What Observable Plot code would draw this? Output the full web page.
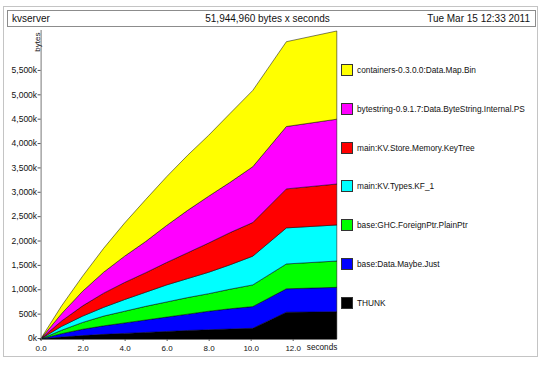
<!DOCTYPE html>
<html>
<head>
<meta charset="utf-8">
<script src="https://cdn.jsdelivr.net/npm/d3@7"></script>
<script src="https://cdn.jsdelivr.net/npm/@observablehq/plot@0.6"></script>
<style>
  body { margin: 0; background: #fff; }
  #wrap { position: relative; width: 540px; height: 367px; overflow: hidden;
          font-family: "Liberation Sans", Arial, Helvetica, sans-serif; color: #111; }
  #chart { position: absolute; left: 0; top: 0; }
  #frame { position: absolute; left: 3px; top: 6px; width: 535px; height: 351px;
           border: 1px solid #c4c4c4; box-sizing: border-box; pointer-events: none; }
  #title { position: absolute; left: 7px; top: 10px; width: 529px; height: 17px;
           border: 1px solid #8c8c8c; box-sizing: border-box; font-size: 10px; }
  #title span { position: absolute; top: 2px; line-height: 12px; white-space: nowrap; }
  #legend { position: absolute; left: 341px; top: 64px; }
  .item { position: absolute; left: 0; height: 12px; white-space: nowrap; }
  .sw { position: absolute; left: 0; top: 0; width: 12px; height: 12px;
        border: 1px solid #333; box-sizing: border-box; }
  .lt { position: absolute; left: 16px; top: 0; line-height: 12px; font-size: 8.3px; }
</style>
</head>
<body>
<div id="wrap">
  <div id="chart"></div>
  <div id="frame"></div>
  <div id="title"></div>
  <div id="legend"></div>
</div>
<script>
// ---- data (values in k bytes) ----
const titleLeft = "kvserver";
const titleCenter = "51,944,960 bytes x seconds";
const titleRight = "Tue Mar 15 12:33 2011";
const yLabel = "bytes";
const xLabel = "seconds";

const times = [0, 1, 2, 3, 4, 5, 6, 7, 8, 9, 10.1, 11.7, 14.1];

const series = [
  "THUNK",
  "base:Data.Maybe.Just",
  "base:GHC.ForeignPtr.PlainPtr",
  "main:KV.Types.KF_1",
  "main:KV.Store.Memory.KeyTree",
  "bytestring-0.9.1.7:Data.ByteString.Internal.PS",
  "containers-0.3.0.0:Data.Map.Bin"
];
const colors = ["#000000", "#0000ff", "#00ff00", "#00ffff", "#ff0000", "#ff00ff", "#ffff00"];

const thunk      = [0,  40,  70,  95, 115, 135, 155,  175,  190,  205,  220,  550,  560];
const maybeJust  = [0,  70, 130, 175, 215, 255, 295,  335,  380,  415,  445,  480,  500];
const plainPtr   = [0,  70, 140, 200, 240, 280, 310,  340,  360,  400,  445,  510,  540];
const kf1        = [0,  80, 130, 180, 240, 290, 350,  390,  440,  500,  590,  740,  740];
const keyTree    = [0, 110, 210, 290, 350, 400, 460,  530,  600,  660,  690,  800,  840];
const byteString = [0, 150, 300, 430, 540, 640, 760,  870,  960, 1030, 1145, 1280, 1330];
const mapBin     = [0, 160, 310, 490, 680, 860, 1000, 1130, 1250, 1410, 1565, 1740, 1810];

const yTicks = [0, 500, 1000, 1500, 2000, 2500, 3000, 3500, 4000, 4500, 5000, 5500];
const xTicks = [0, 2, 4, 6, 8, 10, 12];

// ---- build table ----
const valuesBySeries = [thunk, maybeJust, plainPtr, kf1, keyTree, byteString, mapBin];
const rows = [];
series.forEach((s, i) => {
  times.forEach((t, j) => rows.push({ t, series: s, value: valuesBySeries[i][j] }));
});

const fmtK = d => d3.format(",")(d) + "k";

const chart = Plot.plot({
  width: 540,
  height: 367,
  marginLeft: 40.6,
  marginRight: 203.2,
  marginTop: 30,
  marginBottom: 28,
  style: { fontFamily: "'Liberation Sans', Arial, Helvetica, sans-serif", fontSize: "8px", color: "#111", background: "transparent" },
  x: { domain: [0, 14.1] },
  y: { domain: [0, 6340] },
  color: { domain: series, range: colors },
  marks: [
    Plot.areaY(rows, { x: "t", y: "value", fill: "series", order: series, stroke: "#000", strokeWidth: 0.5 }),
    Plot.ruleX([0], { stroke: "#777", strokeWidth: 1 }),
    Plot.ruleY([0], { stroke: "#777", strokeWidth: 1 }),
    Plot.axisY(yTicks, { tickSize: 3, tickPadding: 1, tickFormat: fmtK, fontSize: 8.5, dy: -1, label: null, stroke: "#555" }),
    Plot.axisX(xTicks, { tickSize: 2, tickPadding: 4, tickFormat: d => d.toFixed(1), fontSize: 8, label: null, stroke: "#555" }),
    Plot.text([xLabel], { frameAnchor: "bottom-right", text: d => d, textAnchor: "end", dy: 10.5, fontSize: 8.2 }),
    Plot.text([yLabel], { frameAnchor: "top-left", text: d => d, rotate: -90, textAnchor: "end", dx: -6.5, dy: 2, fontSize: 8 })
  ]
});
document.getElementById("chart").appendChild(chart);

// ---- title box ----
const title = document.getElementById("title");
title.innerHTML =
  `<span style="left:4px">${titleLeft}</span>` +
  `<span style="left:0;width:100%;text-align:center;margin-left:-4px">${titleCenter}</span>` +
  `<span style="right:5px">${titleRight}</span>`;

// ---- legend (top to bottom: reverse of stacking order) ----
const legend = document.getElementById("legend");
const legendOrder = series.map((s, i) => i).reverse();
legendOrder.forEach((i, k) => {
  const item = document.createElement("div");
  item.className = "item";
  item.style.top = (k * 38.8) + "px";
  item.innerHTML = `<div class="sw" style="background:${colors[i]}"></div><div class="lt">${series[i]}</div>`;
  legend.appendChild(item);
});
</script>
</body>
</html>
